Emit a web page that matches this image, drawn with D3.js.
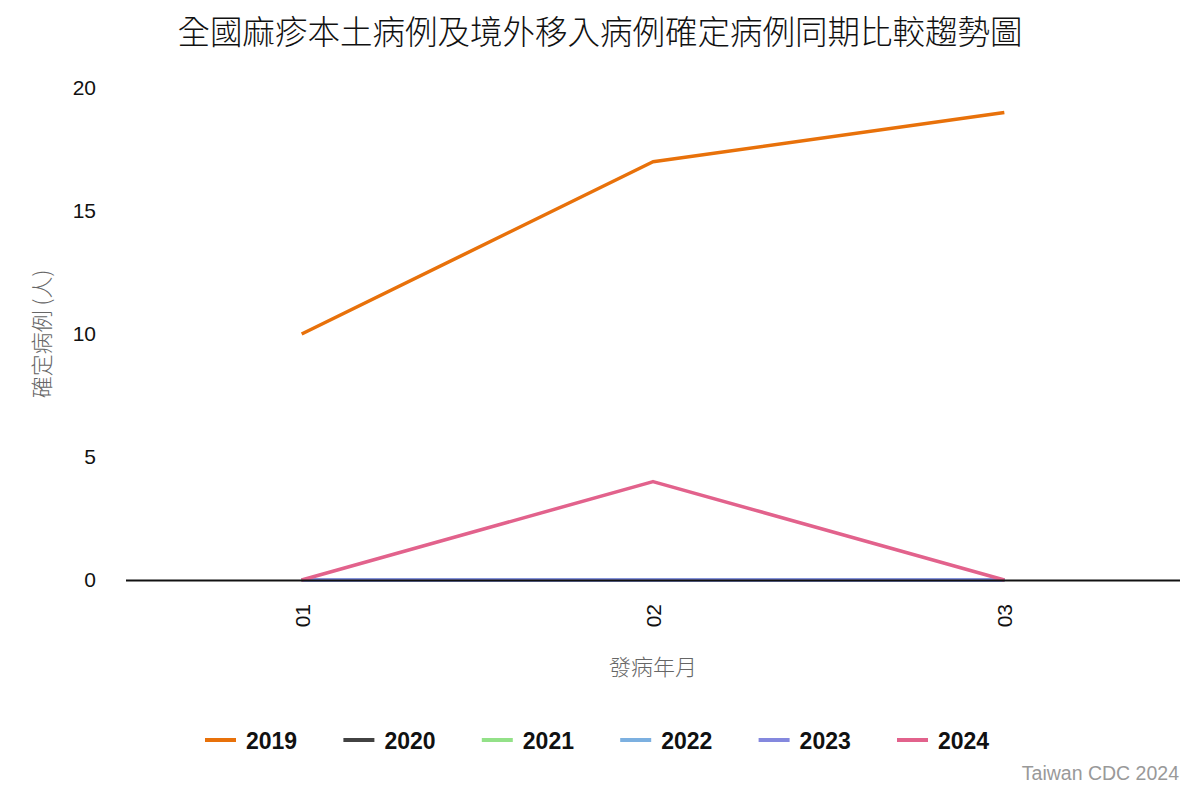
<!DOCTYPE html>
<html>
<head>
<meta charset="utf-8">
<script src="https://cdn.jsdelivr.net/npm/d3@7"></script>
<style>
  body { margin: 0; background: #fff; }
  svg { display: block; }
  .cjk { font-family: "Noto Sans CJK TC", "Noto Sans CJK SC", sans-serif; }
  .lat { font-family: "Liberation Sans", Arial, sans-serif; }
</style>
</head>
<body>
<div id="chart"></div>
<script>
// data
const months = ["01", "02", "03"];
const years = ["2019", "2020", "2021", "2022", "2023", "2024"];
const colors = ["#e8710a", "#424242", "#93e188", "#7cb0e0", "#8488de", "#e2628c"];
const cases2019 = [10, 17, 19];
const cases2020 = [0, 0, 0];
const cases2021 = [0, 0, 0];
const cases2022 = [0, 0, 0];
const cases2023 = [0, 0, 0];
const cases2024 = [0, 4, 0];
const yTicks = [0, 5, 10, 15, 20];

const seriesValues = [cases2019, cases2020, cases2021, cases2022, cases2023, cases2024];

const W = 1200, H = 800;
const margin = {top: 88, right: 20, bottom: 220, left: 126};
const width = W - margin.left - margin.right;
const height = H - margin.top - margin.bottom;

const svg = d3.select("#chart").append("svg")
    .attr("width", W)
    .attr("height", H);

const g = svg.append("g")
    .attr("transform", "translate(" + margin.left + "," + margin.top + ")");

// scales
const x = d3.scalePoint()
    .domain(months)
    .range([0, width])
    .padding(0.5);

const y = d3.scaleLinear()
    .domain([0, 20])
    .range([height, 0]);

// title
svg.append("text")
    .attr("class", "cjk")
    .attr("x", 600)
    .attr("y", 44)
    .attr("text-anchor", "middle")
    .style("font-size", "32.5px")
    .style("font-weight", "300")
    .attr("fill", "#111")
    .text("全國麻疹本土病例及境外移入病例確定病例同期比較趨勢圖");

// y axis (labels only)
const yAxis = d3.axisLeft(y).tickValues(yTicks).tickSize(0).tickPadding(30);
const yG = g.append("g").call(yAxis);
yG.select(".domain").remove();
yG.selectAll("text")
    .attr("class", "lat")
    .style("font-size", "21px")
    .attr("fill", "#111");

// y label
svg.append("text")
    .attr("class", "cjk")
    .attr("transform", "translate(50," + (margin.top + y(10)) + ") rotate(-90)")
    .attr("text-anchor", "middle")
    .style("font-size", "22px")
    .style("font-weight", "300")
    .attr("fill", "#666")
    .text("確定病例 (人)");

// lines
const line = d3.line()
    .x((d, i) => x(months[i]))
    .y(d => y(d));

seriesValues.forEach((vals, i) => {
    g.append("path")
        .datum(vals)
        .attr("fill", "none")
        .attr("stroke", colors[i])
        .attr("stroke-width", 3.5)
        .attr("stroke-linejoin", "round")
        .attr("d", line);
});

// baseline
g.append("line")
    .attr("x1", 0)
    .attr("x2", width)
    .attr("y1", y(0) + 0.5)
    .attr("y2", y(0) + 0.5)
    .attr("stroke", "#111")
    .attr("stroke-width", 2);

// x axis labels, rotated
const xAxis = d3.axisBottom(x).tickSize(0);
const xG = g.append("g")
    .attr("transform", "translate(0," + height + ")")
    .call(xAxis);
xG.select(".domain").remove();
xG.selectAll("text")
    .attr("class", "lat")
    .style("font-size", "21px")
    .attr("fill", "#111")
    .attr("text-anchor", "end")
    .attr("transform", "rotate(-90)")
    .attr("x", -24)
    .attr("y", 0)
    .attr("dy", "0.35em");

// x label
svg.append("text")
    .attr("class", "cjk")
    .attr("x", margin.left + x("02"))
    .attr("y", 675)
    .attr("text-anchor", "middle")
    .style("font-size", "22px")
    .style("font-weight", "300")
    .attr("fill", "#666")
    .text("發病年月");

// legend
const legend = svg.append("g")
    .attr("transform", "translate(205,740)");

const item = legend.selectAll("g")
    .data(years)
    .join("g")
    .attr("transform", (d, i) => "translate(" + (i * 138.4) + ",0)");

item.append("line")
    .attr("x1", 0).attr("x2", 31)
    .attr("y1", 0).attr("y2", 0)
    .attr("stroke", (d, i) => colors[i])
    .attr("stroke-width", 4);

item.append("text")
    .attr("class", "lat")
    .attr("x", 41)
    .attr("y", 8.5)
    .style("font-size", "23px")
    .style("font-weight", "bold")
    .attr("fill", "#111")
    .text(d => d);

// source note
svg.append("text")
    .attr("class", "lat")
    .attr("x", 1179)
    .attr("y", 780)
    .attr("text-anchor", "end")
    .style("font-size", "19.5px")
    .attr("fill", "#999")
    .text("Taiwan CDC 2024");
</script>
</body>
</html>
